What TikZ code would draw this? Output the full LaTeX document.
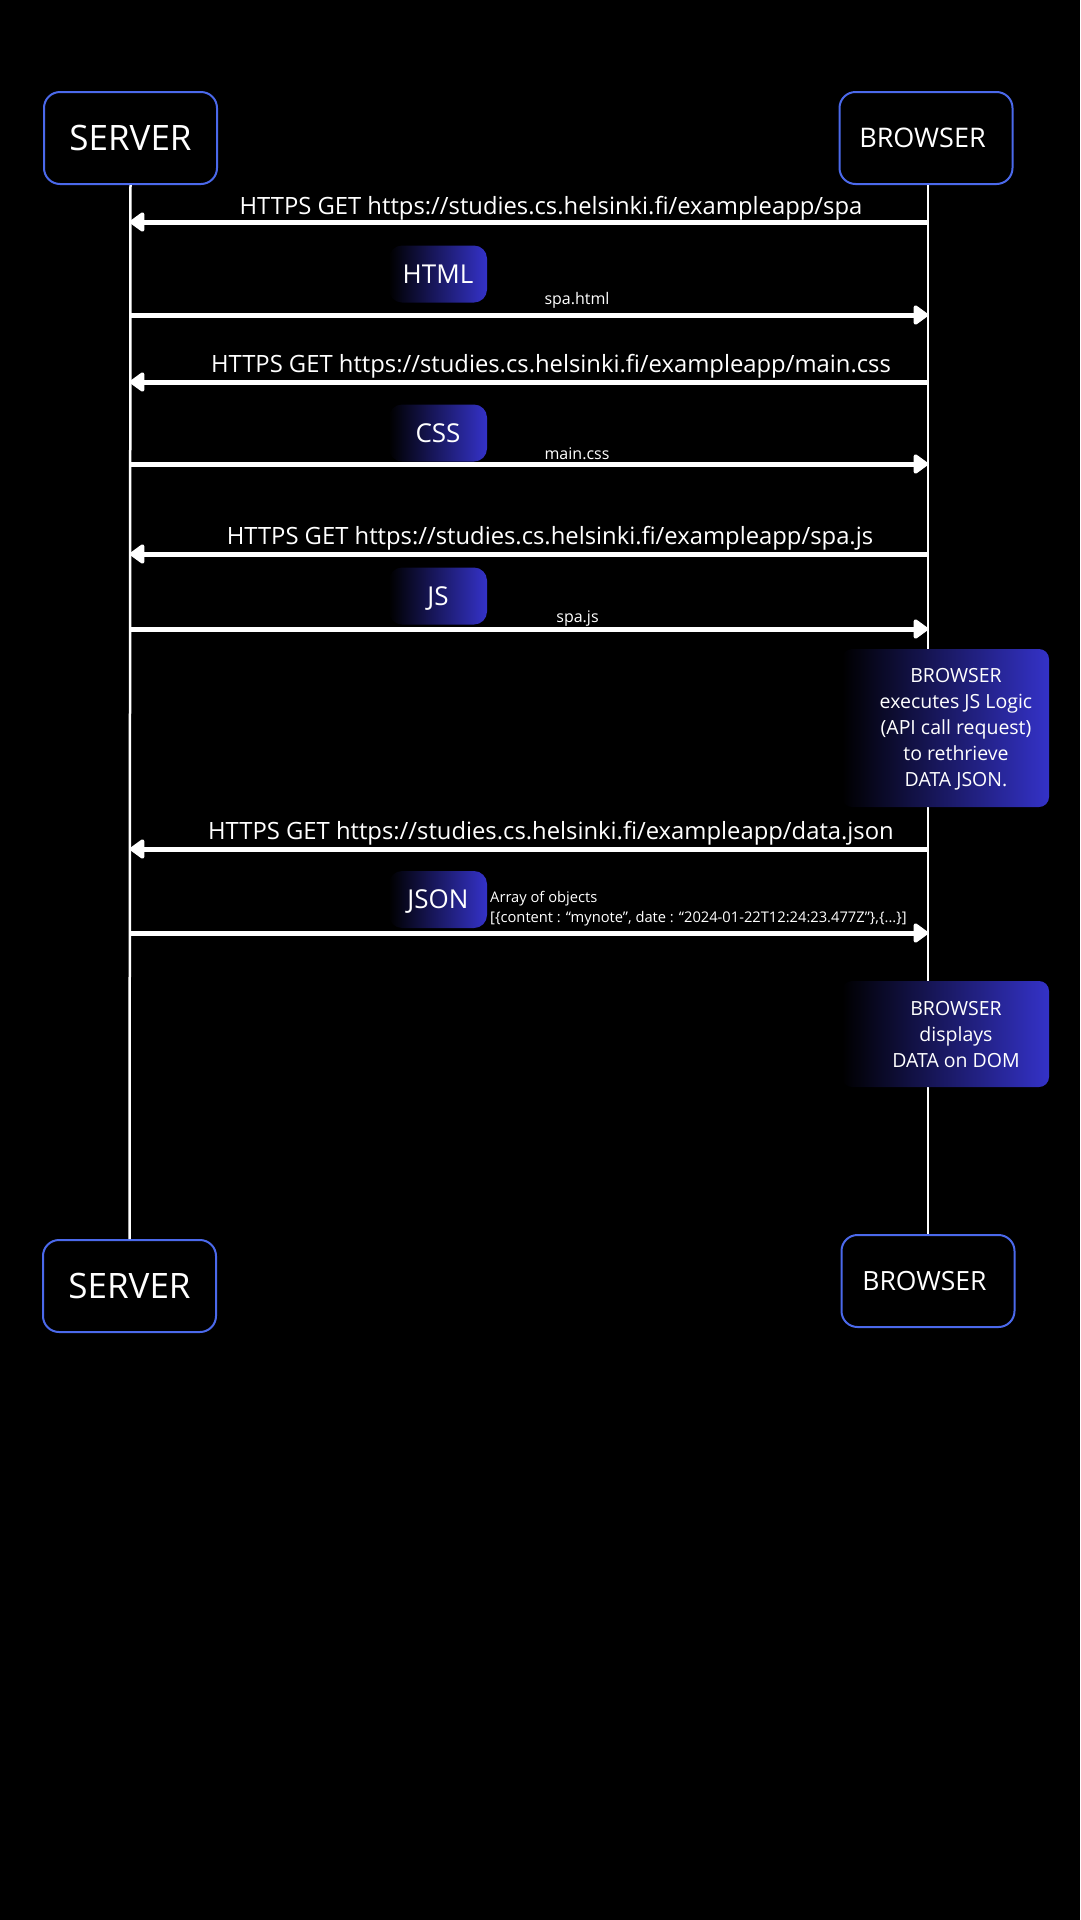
\documentclass[tikz,border=0pt]{standalone}
\usepackage{fontspec}
\setmainfont{Open Sans}
\usetikzlibrary{arrows.meta}
\definecolor{boxblue}{RGB}{75,105,235}
\definecolor{fillblue}{RGB}{52,50,200}
\begin{document}
\begin{tikzpicture}[x=1pt,y=-1pt,
 actor/.style={draw=boxblue, line width=2pt, rounded corners=16pt, fill=black, minimum width=173pt, minimum height=92pt, text=white, inner sep=0pt},
 life/.style={white, line width=2.5pt},
 msg/.style={white, line width=5pt, -{Triangle[length=16pt,width=22pt,round]}},
 url/.style={text=white, font=\fontsize{23.8}{28}\selectfont, inner sep=0pt, anchor=base},
 payload/.style={rounded corners=13pt, left color=black, right color=fillblue, minimum width=98pt, minimum height=57pt, text=white, text depth=0pt, font=\fontsize{26}{30}\selectfont, inner sep=0pt},
 small/.style={text=white, font=\fontsize{16}{19}\selectfont, inner sep=0pt, anchor=base},
 tiny/.style={text=white, font=\fontsize{14.7}{20}\selectfont, inner sep=0pt, anchor=base west},
 notebox/.style={rounded corners=10pt, left color=black, right color=fillblue, minimum width=207pt, inner sep=0pt},
 notetext/.style={text=white, align=center, font=\fontsize{19.5}{26}\selectfont, inner sep=0pt}
]
\useasboundingbox (0,0) rectangle (1080,1920);
\fill[black] (0,0) rectangle (1080,1920);

% actors
\node[actor, font=\fontsize{35}{40}\selectfont] (stop) at (130.5,138) {SERVER};
\node[actor, font=\fontsize{27}{32}\selectfont] (btop) at (926,138) {\hspace*{-7pt}BROWSER};
\node[actor, font=\fontsize{35}{40}\selectfont] (sbot) at (129.5,1286) {SERVER};
\node[actor, font=\fontsize{26.5}{32}\selectfont] (bbot) at (928,1281) {\hspace*{-7pt}BROWSER};

% lifelines
\coordinate (stopend) at (stop.south);
\coordinate (btopend) at (bbot.north |- btop.south);
\draw[life] (stopend) -- (sbot.north);
\draw[life] (btopend) -- (bbot.north);

% message end points
\foreach \i/\y in {1/222,2/315,3/382,4/464,5/554,6/629,7/849,8/933}{
  \coordinate (s\i) at (130,\y);
  \coordinate (b\i) at (928,\y);
}

% notes (drawn over lifeline)
\node[notebox, minimum height=158pt] (n1) at (945.5,728) {};
\node[notetext] (n1t) at (956,729.5) {BROWSER\\executes JS Logic\\(API call request)\\to rethrieve\\DATA JSON.};
\node[notebox, minimum height=106pt] (n2) at (945.5,1034) {};
\node[notetext] (n2t) at (956,1035) {BROWSER\\displays\\DATA on DOM};

% messages
\draw[msg] (b1) -- (s1);
\node[url] (l1) at (551,214) {HTTPS GET https://studies.cs.helsinki.fi/exampleapp/spa};

\node[payload] (p1) at (438,274) {HTML};
\node[small] (l2) at (577,304) {spa.html};
\draw[msg] (s2) -- (b2);

\draw[msg] (b3) -- (s3);
\node[url] (l3) at (551,372) {HTTPS GET https://studies.cs.helsinki.fi/exampleapp/main.css};

\node[payload] (p2) at (438,433) {CSS};
\node[small] (l4) at (577,459) {main.css};
\draw[msg] (s4) -- (b4);

\draw[msg] (b5) -- (s5);
\node[url] (l5) at (550,544) {HTTPS GET https://studies.cs.helsinki.fi/exampleapp/spa.js};

\node[payload] (p3) at (438,596) {JS};
\node[small] (l6) at (577.5,622) {spa.js};
\draw[msg] (s6) -- (b6);

\draw[msg] (b7) -- (s7);
\node[url] (l7) at (551,839) {HTTPS GET https://studies.cs.helsinki.fi/exampleapp/data.json};

\node[payload] (p4) at (438,899.5) {JSON};
\node[tiny] (l8a) at (490,902) {Array of objects};
\node[tiny] (l8b) at (490,922) {[\{content : “mynote”, date : “2024-01-22T12:24:23.477Z”\},\{...\}]};
\draw[msg] (s8) -- (b8);
\end{tikzpicture}
\end{document}
